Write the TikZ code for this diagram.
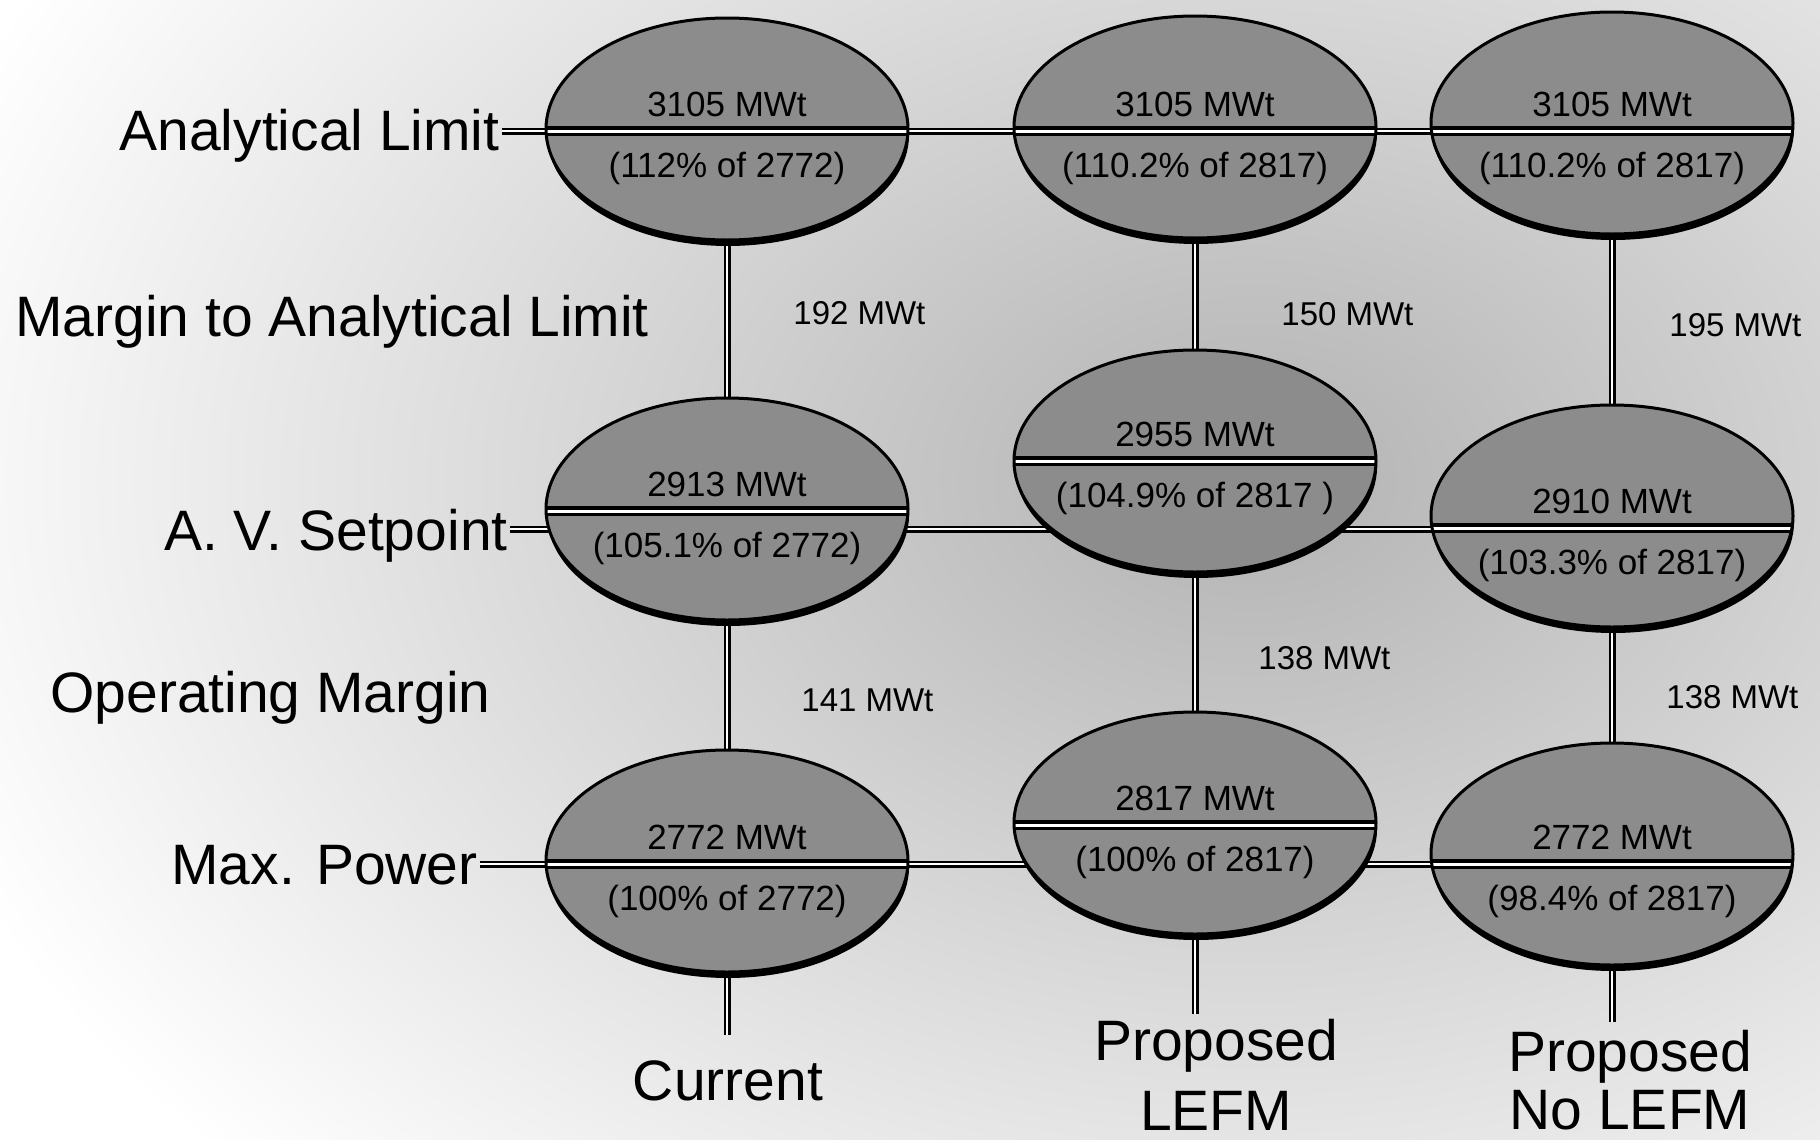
\documentclass[tikz,border=0pt]{standalone}
\usepackage{fontspec}
\setmainfont{Liberation Sans}
\usepackage{tikz}
\usetikzlibrary{shapes.geometric, shadows, backgrounds}

\tikzset{
  lbl/.style={font=\fontsize{28.5}{35}\selectfont, inner sep=1pt},
  val/.style={font=\fontsize{17.5}{21}\selectfont, inner sep=0pt},
  mrg/.style={font=\fontsize{16.5}{20}\selectfont, inner sep=0pt},
  dbl/.style={draw=black, double=white, line width=1.1pt, double distance=1.3pt},
  sep/.style={draw=black, double=white, line width=1.6pt, double distance=1.5pt},
  pill/.style={ellipse, draw, line width=1.5pt, fill=black!45,
    minimum width=181pt, minimum height=111pt, inner sep=0pt,
    drop shadow={shadow xshift=0.5pt, shadow yshift=-3pt, fill=black, opacity=1},
    path picture={\draw[sep] ([yshift=#1]path picture bounding box.west) -- ([yshift=#1]path picture bounding box.east);}},
}

\begin{document}
\begin{tikzpicture}[x=0.5pt, y=-0.5pt]
    \useasboundingbox (0,0) rectangle (1820,1140);

    % row and column labels
    \node[lbl, anchor=base east] (lal) at (502,150) {Analytical Limit};
    \node[lbl, anchor=base west] (lmal) at (13,336) {Margin to Analytical Limit};
    \node[lbl, anchor=base east] (lav) at (510,550) {A. V. Setpoint};
    \node[lbl, anchor=base west] (lom) at (48,712) {Operating Margin};
    \node[lbl, anchor=base east] (lmp) at (480,884) {Max. Power};
    \node[lbl, anchor=base] (cur) at (728,1100) {Current};
    \node[lbl, align=center, anchor=north] (lefm) at (1216,1017) {Proposed\\LEFM};
    \node[lbl, align=center, anchor=north, font=\fontsize{28.5}{29}\selectfont] (nolefm) at (1630,1028) {Proposed\\No LEFM};

    % power ellipses: name / x / divider y / centre y / upper / lower
    \foreach \n/\x/\dy/\cy/\hi/\lo in {
        e1/727/131/129/{3105 MWt}/{(112\% of 2772)},
        e2/727/511/509/{2913 MWt}/{(105.1\% of 2772)},
        e3/727/864/861/{2772 MWt}/{(100\% of 2772)},
        e4/1195/131/127/{3105 MWt}/{(110.2\% of 2817)},
        e5/1195/461/461/{2955 MWt}/{(104.9\% of 2817 )},
        e6/1195/825/823/{2817 MWt}/{(100\% of 2817)},
        e7/1612/131/123/{3105 MWt}/{(110.2\% of 2817)},
        e8/1612/528/516/{2910 MWt}/{(103.3\% of 2817)},
        e9/1612/864/854/{2772 MWt}/{(98.4\% of 2817)}}{
        \pgfmathsetmacro\sh{(\cy-\dy)*0.5}
        \node[pill=\sh pt] (\n) at (\x,\cy) {};
        \node[val, anchor=base] (\n-hi) at (\x,\dy-15) {\hi};
        \node[val, anchor=base] (\n-lo) at (\x,\dy+46) {\lo};
    }

    % margins
    \node[mrg, anchor=west] (m1) at (793,313) {192 MWt};
    \node[mrg, anchor=west] (m2) at (1281,314) {150 MWt};
    \node[mrg, anchor=west] (m3) at (1669,325) {195 MWt};
    \node[mrg, anchor=west] (m4) at (801,700) {141 MWt};
    \node[mrg, anchor=west] (m5) at (1258,658) {138 MWt};
    \node[mrg, anchor=west] (m6) at (1666,697) {138 MWt};

    \coordinate (al) at (0,131);
    \coordinate (av) at (0,529);
    \coordinate (mp) at (0,864);
    \coordinate (c1) at (727,1035);
    \coordinate (c2) at (1195,1014);
    \coordinate (c3) at (1612,1022);

    \begin{scope}[on background layer]
        \clip (0,0) rectangle (1820,1140);
        \fill[white] (0,0) rectangle (1820,1140);
        \shade[inner color=black!30, outer color=white] (1250,480) ellipse (1400 and 1000);
        \draw[dbl] (lal.east |- al) -- (e7.center |- al);
        \draw[dbl] (lav.east |- av) -- (e8.center |- av);
        \draw[dbl] (lmp.east |- mp) -- (e9.center |- mp);
        \draw[dbl] (e1) -- (e2) -- (e3) -- (c1);
        \draw[dbl] (e4) -- (e5) -- (e6) -- (c2);
        \draw[dbl] (e7) -- (e8) -- (e9) -- (c3);
    \end{scope}
\end{tikzpicture}
\end{document}
